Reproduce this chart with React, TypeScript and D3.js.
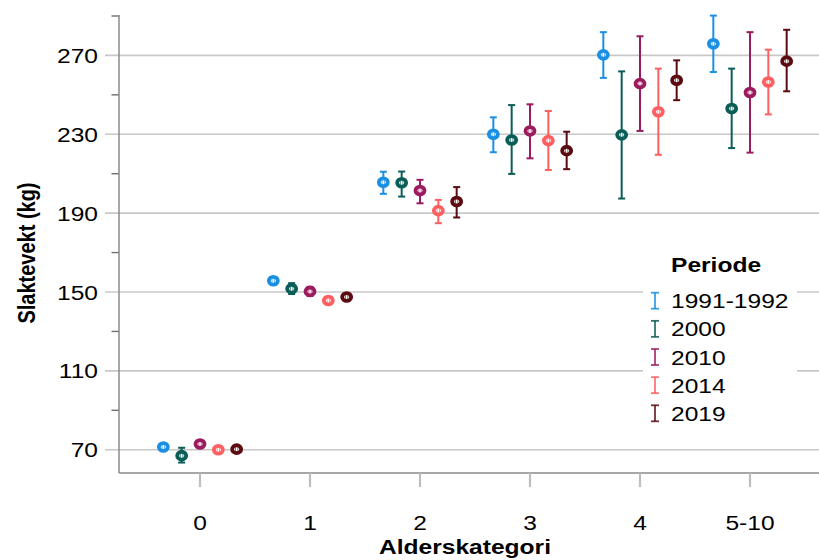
import React from "react";
import * as d3 from "d3";

const categories = ["0", "1", "2", "3", "4", "5-10"];
const periods = ["1991-1992", "2000", "2010", "2014", "2019"];
const colors = ["#1a8fe3", "#0b5d57", "#9b1b5e", "#ff5f61", "#5b0b0f"];

const mean1991 = [71.4, 155.7, 205.7, 230, 270.3, 275.9];
const low1991 = [70.2, 154, 199.8, 220.9, 258.6, 261.6];
const high1991 = [72.6, 157.4, 211, 238.6, 281.8, 290.2];

const mean2000 = [67, 151.7, 205.4, 227.1, 229.7, 243.1];
const low2000 = [63.5, 149, 198.4, 209.9, 197.4, 223];
const high2000 = [71, 154.5, 211.1, 244.8, 261.9, 263.3];

const mean2010 = [72.9, 150.3, 201.5, 231.7, 255.7, 251.2];
const low2010 = [71.5, 148, 195, 217.8, 231.7, 220.7];
const high2010 = [74.3, 152.6, 206.9, 245.2, 279.7, 281.8];

const mean2014 = [70, 145.7, 191.3, 226.8, 241.4, 256.5];
const low2014 = [69, 144, 184.9, 211.9, 219.6, 240.1];
const high2014 = [71, 147.4, 196.7, 241.8, 263.3, 272.9];

const mean2019 = [70.3, 147.5, 195.9, 221.7, 257.4, 267.1];
const low2019 = [69.3, 146.5, 187.8, 212.3, 247.3, 251.8];
const high2019 = [71.3, 148.5, 203.2, 231.3, 267.5, 283];

const yTicks = [70, 110, 150, 190, 230, 270];
const yMinorTicks = [90, 130, 170, 210, 250, 290];

const series = [
  { mean: mean1991, low: low1991, high: high1991 },
  { mean: mean2000, low: low2000, high: high2000 },
  { mean: mean2010, low: low2010, high: high2010 },
  { mean: mean2014, low: low2014, high: high2014 },
  { mean: mean2019, low: low2019, high: high2019 },
];

const W = 819;
const H = 560;
const left = 119;
const top = 15;
const bottom = 473;
const right = 819;
const FONT = "'Liberation Sans', Arial, sans-serif";
const SX = 1.17;

export default function App() {
  const x = d3.scalePoint<string>().domain(categories).range([200, 750]);
  const step = 110;
  const off = d3.scalePoint<string>().domain(periods).range([-step / 3, step / 3]);
  const y = d3.scaleLinear().domain([58.2, 290.5]).range([bottom, top]);

  const txt = (
    key: string,
    tx: number,
    ty: number,
    s: string,
    anchor: string,
    size = 21,
    weight = "normal"
  ) => (
    <text
      key={key}
      transform={`translate(${tx},${ty}) scale(${SX},1)`}
      textAnchor={anchor}
      fontFamily={FONT}
      fontSize={size}
      fontWeight={weight}
      fill="#000"
    >
      {s}
    </text>
  );

  return (
    <svg
      width={W}
      height={H}
      style={{ position: "absolute", left: 0, top: 0, background: "#fff" }}
    >
      <rect x={0} y={0} width={W} height={H} fill="#fff" />
      {/* gridlines & major ticks */}
      {yTicks.map((t) => (
        <line
          key={"g" + t}
          x1={105}
          x2={right}
          y1={y(t)}
          y2={y(t)}
          stroke="#c8c8c8"
          strokeWidth={1.6}
        />
      ))}
      {yMinorTicks.map((t) => (
        <line
          key={"m" + t}
          x1={111.5}
          x2={left}
          y1={y(t)}
          y2={y(t)}
          stroke="#707070"
          strokeWidth={1.4}
        />
      ))}
      {/* axes */}
      <line x1={left} x2={left} y1={top} y2={bottom} stroke="#8a8a8a" strokeWidth={1.5} />
      <line x1={left} x2={right} y1={bottom} y2={bottom} stroke="#8a8a8a" strokeWidth={1.5} />
      {categories.map((c) => (
        <line
          key={"xt" + c}
          x1={x(c)}
          x2={x(c)}
          y1={bottom}
          y2={487}
          stroke="#bdbdbd"
          strokeWidth={2.2}
        />
      ))}
      {/* tick labels */}
      {yTicks.map((t) => txt("yl" + t, 98, y(t) + 7.5, String(t), "end"))}
      {categories.map((c) => txt("xl" + c, x(c)!, 530, c, "middle"))}
      {txt("xtitle", 465, 554, "Alderskategori", "middle", 21, "bold")}
      <text
        transform={`translate(35,253) rotate(-90) scale(1,${SX})`}
        textAnchor="middle"
        fontFamily={FONT}
        fontSize={20}
        fontWeight="bold"
      >
        Slaktevekt (kg)
      </text>
      {/* legend background */}
      <rect x={643} y={245} width={154} height={185} fill="#fff" />
      {/* data */}
      {series.map((s, si) =>
        categories.map((c, ci) => {
          const cx = x(c)! + off(periods[si])!;
          const cy = y(s.mean[ci]);
          const col = colors[si];
          const y1 = y(s.high[ci]);
          const y2 = y(s.low[ci]);
          return (
            <g key={`d${si}-${ci}`}>
              <line x1={cx} x2={cx} y1={y1} y2={y2} stroke={col} strokeWidth={2} />
              <line x1={cx - 3.5} x2={cx + 3.5} y1={y1} y2={y1} stroke={col} strokeWidth={2} />
              <line x1={cx - 3.5} x2={cx + 3.5} y1={y2} y2={y2} stroke={col} strokeWidth={2} />
              <ellipse cx={cx} cy={cy} rx={4.5} ry={3.9} fill="#fff" stroke={col} strokeWidth={3.8} />
              <line x1={cx - 1.2} x2={cx - 1.2} y1={cy - 2} y2={cy + 2} stroke={col} strokeWidth={0.9} opacity={0.7} />
              <line x1={cx + 1.2} x2={cx + 1.2} y1={cy - 2} y2={cy + 2} stroke={col} strokeWidth={0.9} opacity={0.7} />
            </g>
          );
        })
      )}
      {/* legend */}
      {txt("ltitle", 671, 271.5, "Periode", "start", 21, "bold")}
      {periods.map((p, i) => {
        const cy = 300.7 + i * 28.15;
        const col = colors[i];
        return (
          <g key={"lg" + p}>
            <line x1={655} x2={655} y1={cy - 8} y2={cy + 8} stroke={col} strokeWidth={1.8} opacity={0.85} />
            <line x1={651} x2={659} y1={cy - 8} y2={cy - 8} stroke={col} strokeWidth={1.8} opacity={0.85} />
            <line x1={651} x2={659} y1={cy + 8} y2={cy + 8} stroke={col} strokeWidth={1.8} opacity={0.85} />
            {txt("lt" + p, 671, cy + 7.5, p, "start")}
          </g>
        );
      })}
    </svg>
  );
}
